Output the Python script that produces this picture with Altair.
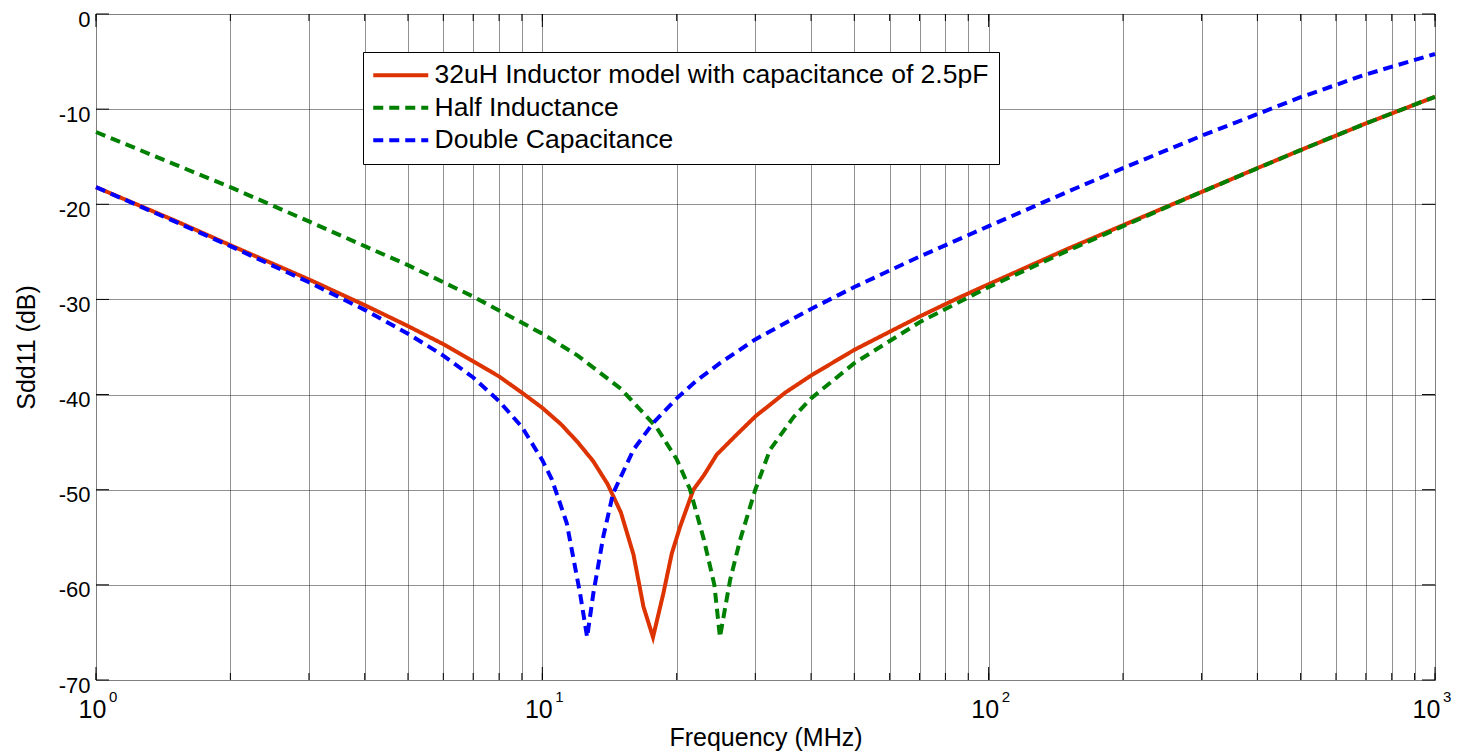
import altair as alt
import pandas as pd

series_names = [
    "32uH Inductor model with capacitance of 2.5pF",
    "Half Inductance",
    "Double Capacitance",
]
series_colors = ["#dd3300", "#008000", "#0000ff"]
series_dashes = [[1, 0], [10, 6], [10, 6]]

red_freq = [1, 1.5, 2, 3, 4, 5, 6, 7, 8, 9, 10, 11, 12, 13, 14, 15, 16, 16.85, 17.7, 18.67,
            19.5, 20.35, 21.8, 23, 24.6, 27, 30, 35, 40, 50, 60, 70, 85, 100, 150, 200, 300,
            400, 500, 700, 1000]
red_db = [-18.2, -21.7, -24.3, -27.9, -30.6, -32.8, -34.7, -36.5, -38.1, -39.8, -41.4, -43.1,
          -45.0, -47.0, -49.4, -52.4, -56.8, -62.3, -65.5, -60.9, -56.7, -53.9, -50.0, -48.5,
          -46.3, -44.4, -42.3, -39.8, -38.0, -35.3, -33.4, -31.8, -29.9, -28.4, -24.7, -22.2,
          -18.7, -16.2, -14.3, -11.5, -8.7]

green_freq = [1, 1.5, 2, 3, 4, 5, 7, 10, 12, 15, 18, 20, 21.4, 23, 24.29, 25, 26.34, 27.73, 30,
              32.37, 36.5, 40, 50, 70, 100, 150, 200, 300, 500, 700, 1000]
green_db = [-12.4, -15.8, -18.2, -21.8, -24.4, -26.4, -29.7, -33.6, -35.9, -39.4, -43.4, -46.8,
            -49.9, -55.2, -60.0, -65.5, -59.5, -55.3, -50.0, -45.8, -42.4, -40.4, -36.7, -32.4,
            -28.7, -24.9, -22.3, -18.7, -14.3, -11.5, -8.7]

blue_freq = [1, 1.5, 2, 3, 4, 5, 6, 7, 8, 9, 10, 10.5, 11.34, 12.15, 12.6, 13.01, 13.7, 14.4, 16,
             17.7, 20, 22.2, 25, 30, 40, 50, 70, 100, 150, 200, 300, 500, 700, 1000]
blue_db = [-18.2, -21.8, -24.4, -28.2, -31.1, -33.6, -35.9, -38.2, -40.7, -43.4, -46.9, -48.9,
           -53.5, -60.9, -65.5, -60.9, -54.9, -50.4, -45.8, -43.0, -40.4, -38.5, -36.7, -34.2,
           -31.0, -28.7, -25.5, -22.3, -18.7, -16.2, -12.8, -8.75, -6.35, -4.2]

grid_freqs = [1, 2, 3, 4, 5, 6, 7, 8, 9,
              10, 20, 30, 40, 50, 60, 70, 80, 90,
              100, 200, 300, 400, 500, 600, 700, 800, 900, 1000]
decade_freqs = [1, 10, 100, 1000]
decade_exps = ["0", "1", "2", "3"]
y_ticks = [-70, -60, -50, -40, -30, -20, -10, 0]

rows = []
for name, fs, ds in [(series_names[0], red_freq, red_db),
                     (series_names[1], green_freq, green_db),
                     (series_names[2], blue_freq, blue_db)]:
    for f, d in zip(fs, ds):
        rows.append({"series": name, "freq": f, "db": d})
df = pd.DataFrame(rows)

df_minor = pd.DataFrame({"freq": grid_freqs})
df_major = pd.DataFrame({"freq": decade_freqs, "exp": decade_exps})
df_y = pd.DataFrame({"db": y_ticks})

W, H = 1339, 666

x_scale = alt.Scale(type="log", domain=[1, 1000], nice=False)
y_scale = alt.Scale(domain=[-70, 0], nice=False, zero=False)

grid_style = dict(grid=True, gridColor="#222222", gridDash=[1, 1], gridOpacity=1, gridWidth=1)

x_axis = alt.Axis(
    values=grid_freqs,
    labelExpr="indexof([1,10,100,1000], datum.value) >= 0 ? '10' : ''",
    labelOverlap=False, labelFlush=False, labelFontSize=25, labelPadding=17,
    labelOffset={"condition": {"test": "datum.value == 1000", "value": -9}, "value": -4},
    labelColor="black", ticks=False, domain=False,
    title="Frequency (MHz)", titleFontSize=25, titleFontWeight="normal",
    titleColor="black", titleX=W / 2, titleY=65, titleBaseline="alphabetic",
    **grid_style,
)
y_axis = alt.Axis(
    values=y_ticks, labelExpr="replace(datum.label, '\u2212', '-')",
    labelFontSize=22, labelPadding=6, labelOffset=5, labelColor="black",
    labelFlush=False, labelOverlap=False,
    ticks=False, domain=False,
    title="Sdd11 (dB)", titleFontSize=25, titleFontWeight="normal",
    titleColor="black", titleX=-57, titleY=H / 2,
    **grid_style,
)

x_enc = alt.X("freq:Q", scale=x_scale, axis=x_axis)
y_enc = alt.Y("db:Q", scale=y_scale, axis=y_axis)

legend_def = alt.Legend(
    title=None, orient="none", legendX=267, legendY=38,
    symbolType="M-2.75,0H2.75", symbolSize=400, symbolStrokeWidth=4,
    symbolOffset=14.5, labelFontSize=26.5, labelColor="black", labelOffset=20.5,
    labelLimit=0, strokeColor="black", fillColor="white", padding=10, rowPadding=5.5,
)
color_scale = alt.Scale(domain=series_names, range=series_colors)
dash_scale = alt.Scale(domain=series_names, range=series_dashes)


def line_layer(name):
    return alt.Chart(df).transform_filter(alt.datum.series == name).mark_line(
        strokeWidth=4, strokeCap="butt"
    ).encode(
        x=x_enc, y=y_enc,
        color=alt.Color("series:N", scale=color_scale, legend=legend_def),
        strokeDash=alt.StrokeDash("series:N", scale=dash_scale, legend=legend_def),
    )


lines = [line_layer(n) for n in series_names]

tick_color = "black"
minor_bottom = alt.Chart(df_minor).mark_rule(color=tick_color, strokeWidth=1).encode(
    x=x_enc, y=alt.value(H - 7), y2=alt.value(H))
minor_top = alt.Chart(df_minor).mark_rule(color=tick_color, strokeWidth=1).encode(
    x=x_enc, y=alt.value(0), y2=alt.value(7))
major_bottom = alt.Chart(df_major).mark_rule(color=tick_color, strokeWidth=1).encode(
    x=x_enc, y=alt.value(H - 13), y2=alt.value(H))
major_top = alt.Chart(df_major).mark_rule(color=tick_color, strokeWidth=1).encode(
    x=x_enc, y=alt.value(0), y2=alt.value(13))
y_left = alt.Chart(df_y).mark_rule(color=tick_color, strokeWidth=1).encode(
    y=y_enc, x=alt.value(0), x2=alt.value(13))
y_right = alt.Chart(df_y).mark_rule(color=tick_color, strokeWidth=1).encode(
    y=y_enc, x=alt.value(W - 13), x2=alt.value(W))

exps_main = alt.Chart(df_major).transform_filter(alt.datum.freq < 1000).mark_text(
    align="left", baseline="alphabetic", fontSize=15, dx=13, color="black"
).encode(x=x_enc, y=alt.value(H + 22), text="exp:N")
exps_last = alt.Chart(df_major).transform_filter(alt.datum.freq >= 1000).mark_text(
    align="left", baseline="alphabetic", fontSize=15, dx=8, color="black"
).encode(x=x_enc, y=alt.value(H + 22), text="exp:N")

chart = alt.layer(
    *lines, minor_bottom, minor_top, major_bottom, major_top, y_left, y_right,
    exps_main, exps_last
).properties(
    width=W, height=H,
    autosize=alt.AutoSizeParams(type="none"),
    padding={"left": 88, "top": 6, "right": 17, "bottom": 73},
).configure_view(
    stroke="black", strokeWidth=1.5
).configure(
    font="Liberation Sans"
)

chart.save("out.html", embed_options={"renderer": "svg", "actions": False})
